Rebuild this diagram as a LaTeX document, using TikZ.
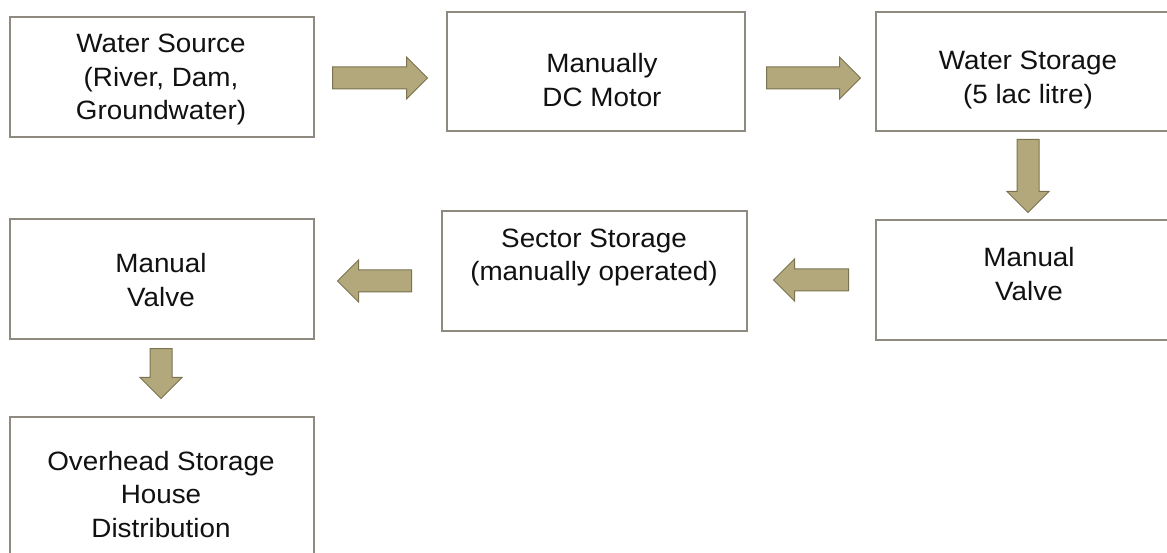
\documentclass[tikz,border=0pt]{standalone}
\usepackage{fontspec}
\setmainfont[FakeStretch=1.05]{Liberation Sans}
\usetikzlibrary{shapes.arrows}
\definecolor{boxline}{HTML}{8E8A80}
\definecolor{arrfill}{HTML}{B3A87C}
\definecolor{arrline}{HTML}{7B7350}
\definecolor{txtcol}{HTML}{111111}
\tikzset{
  blk/.style={draw=boxline, line width=1.5pt, fill=white, rectangle, inner sep=0pt},
  txt/.style={align=center, inner sep=0pt, text=txtcol, font=\fontsize{26.5}{33.5}\selectfont},
  barrow/.style={single arrow, draw=arrline, fill=arrfill, line width=1pt,
    inner xsep=0pt, inner ysep=10.5pt, single arrow head extend=10pt,
    minimum width=0pt, single arrow tip angle=90, anchor=tail},
  varrow/.style={barrow, inner xsep=10.5pt, inner ysep=0pt, shape border rotate=270},
}
\newcommand{\bx}[5]{\node[blk, minimum width=#4-#2, minimum height=#5-#3] (#1) at ({(#2+#4)/2},{(#3+#5)/2}) {};}
\begin{document}
\begin{tikzpicture}[x=1pt,y=-1pt]
\useasboundingbox (0,0) rectangle (1167,553);
\clip (0,0) rectangle (1167,553);
\fill[white] (0,0) rectangle (1167,553);
% boxes
\bx{b1}{10}{17}{314}{137}
\bx{b2}{447}{12}{745}{131}
\bx{b3}{876}{12}{1180}{131}
\bx{b4}{876}{220}{1180}{340}
\bx{b5}{442}{211}{747}{331}
\bx{b6}{10}{219}{314}{339}
\bx{b7}{10}{417}{314}{570}
% texts
\node[txt] (t1) at (161,79.8) {\strut Water Source\\(River, Dam,\\Groundwater)\strut};
\node[txt] (t2) at (602,82.8) {\strut Manually\\DC Motor\strut};
\node[txt] (t3) at (1028,79.8) {\strut Water Storage\\(5 lac litre)\strut};
\node[txt] (t4) at (1029,277) {\strut Manual\\Valve\strut};
\node[txt] (t5) at (594,257.3) {\strut Sector Storage\\(manually operated)\strut};
\node[txt] (t6) at (161,283) {\strut Manual\\Valve\strut};
\node[txt] (t7) at (161,496.8) {\strut Overhead Storage\\House\\Distribution\strut};
% block arrows
\node[barrow, minimum height=95pt] (a1) at (332,78) {};
\node[barrow, minimum height=94pt] (a2) at (766,78) {};
\node[varrow, minimum height=73pt] (a3) at (1028,139) {};
\node[barrow, minimum height=75pt, shape border rotate=180] (a4) at (849,280) {};
\node[barrow, minimum height=74pt, shape border rotate=180] (a5) at (412,281) {};
\node[varrow, minimum height=50pt] (a6) at (161,348) {};
\end{tikzpicture}
\end{document}
